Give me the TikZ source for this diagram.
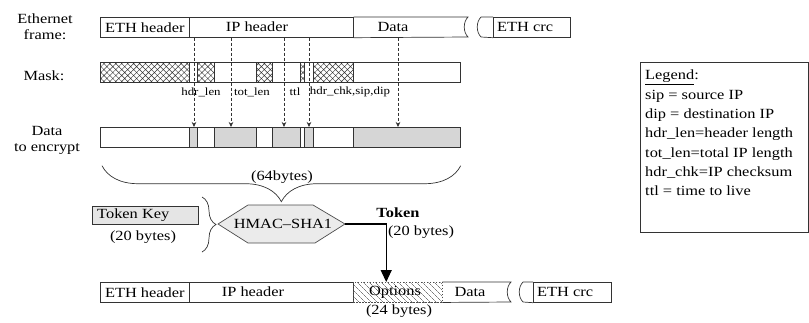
\documentclass[tikz,border=0pt]{standalone}
\usepackage{fontspec}
\setmainfont{Liberation Serif}[FakeStretch=1.17]
\usepackage{tikz}
\usetikzlibrary{arrows.meta,patterns.meta,decorations.pathreplacing}
\tikzset{
    Field/.style = {draw=black!80,line width=0.7pt,minimum height=20pt,inner sep=0pt,anchor=north west},
    Grey/.style = {Field,fill=black!16},
    Cross/.style = {Field,pattern={Hatch[angle=45,distance=4.2pt,line width=0.45pt]},pattern color=black!80},
    Small/.style = {font=\fontsize{11}{13}\selectfont,inner sep=0pt},
    Probe/.style = {draw=black!80,line width=0.6pt,dash pattern=on 3pt off 2pt,-{Stealth[length=5pt,width=4.5pt]}},
    Break/.style = {draw=black!80,line width=0.7pt}
}

\begin{document}
\begin{tikzpicture}[x=1pt,y=-1pt,font=\fontsize{14}{16}\selectfont]
    \useasboundingbox (0,0) rectangle (809,322);
    % left captions
    \node[align=center] (lframe) at (45,27) {Ethernet\\frame:};
    \node (lmask) at (44,76) {Mask:};
    \node[align=center] (lenc) at (47,140) {Data\\to encrypt};
    % Ethernet frame
    \node[Field,minimum width=89pt] (eth) at (100,17) {ETH header};
    \node[Field,minimum width=164pt] (ip) at (189,17) {};
    \node (tip) at (257,27) {IP header};
    \draw[Break] (ip.north east) -- (468,17) .. controls (463,22) and (463,32) .. (468,37) -- (ip.south east);
    \node (tdata) at (393,27) {Data};
    \node[Field,minimum width=77pt] (tcrc) at (493,17) {};
    \draw[Break] (tcrc.north west) -- (481,17) .. controls (476,22) and (476,32) .. (481,37) -- (tcrc.south west);
    \node[anchor=west,inner sep=0pt] (tcrctxt) at ([xshift=4pt]tcrc.west) {ETH crc};
    % mask
    \node[Field,minimum width=360pt] (mask) at (100,62) {};
    \foreach \a/\b in {100/189,197/214,256/272,300/304,313/353}
        {\node[Cross,minimum width={(\b-\a)*1pt}] (m\a) at (\a,62) {};}
    \node[Small] (lhl) at (201,92) {hdr\_len};
    \node[Small] (ltl) at (252,92) {tot\_len};
    \node[Small] (lttl) at (295,92) {ttl};
    \node[Small] (lchk) at (350,92) {hdr\_chk,sip,dip};
    % data to encrypt
    \node[Field,minimum width=360pt] (enc) at (100,127) {};
    \foreach \a/\b in {189/197,214/256,272/300,304/313,353/460}
        {\node[Grey,minimum width={(\b-\a)*1pt}] (g\a) at (\a,127) {};}
    \foreach \x in {194,231,284,309,398}
        {\draw[Probe] (\x,0 |- ip.south) -- (\x,0 |- enc.north);}
    % braces
    \draw[Break,decorate,decoration={brace,mirror,amplitude=36pt}]
        ([xshift=2pt,yshift=-18pt]enc.south west) -- ([yshift=-18pt]enc.south east);
    \node (n64) at (282,177) {(64bytes)};
    \node[Field,fill=black!10,minimum width=106pt,minimum height=18pt] (key) at (92,206) {};
    \node[anchor=west,inner sep=0pt] (keytxt) at ([xshift=5pt]key.west) {Token Key};
    \node (keylen) at (143,237) {(20 bytes)};
    \filldraw[fill=black!8,draw=black!70,line width=0.7pt]
        (218,224) coordinate (hw) -- (248,205) -- (313,205) -- (345,224) coordinate (he)
        -- (315,243) -- (248,243) -- cycle;
    \node (hmac) at (283,224) {HMAC--SHA1};
    \draw[Break,decorate,decoration={brace,amplitude=14pt}]
        ([xshift=-16pt,yshift=27pt]hw) -- ([xshift=-16pt,yshift=-28pt]hw);
    % token
    \node[font=\fontsize{14}{16}\selectfont\bfseries] (tok) at (398,213) {Token};
    \node (toklen) at (421,232) {(20 bytes)};
    % new frame
    \node[Field,minimum width=89pt] (beth) at (100,282) {ETH header};
    \node[Field,minimum width=164pt] (bip) at (189,282) {};
    \node (biptxt) at (253,292) {IP header};
    \node[Field,draw=black!70,line width=0.5pt,dash pattern=on 1.5pt off 1.5pt,
          pattern={Lines[angle=-45,distance=4pt,line width=0.45pt]},pattern color=black!80,
          minimum width=89pt] (opt) at (353,282) {};
    \node (opttxt) at (395,292) {Options};
    \node (optlen) at (399,311) {(24 bytes)};
    \draw[Break] (opt.north east) -- (511,282) .. controls (506,287) and (506,297) .. (511,302) -- (opt.south east);
    \node (bdata) at (470,292) {Data};
    \node[Field,minimum width=78pt] (bcrc) at (533,282) {};
    \draw[Break] (bcrc.north west) -- (523,282) .. controls (518,287) and (518,297) .. (523,302) -- (bcrc.south west);
    \node[anchor=west,inner sep=0pt] (bcrctxt) at ([xshift=4pt]bcrc.west) {ETH crc};
    \draw[line width=1.2pt,-{Triangle[length=12pt,width=11pt]}] (he) -| ([xshift=-11.5pt]opt.north);
    % legend
    \node[Field,minimum width=168pt,minimum height=170pt] (legend) at (640,62) {};
    \node[anchor=north west,align=left,inner sep=0pt,font=\fontsize{14}{19.3}\selectfont]
        (legtxt) at ([xshift=5pt,yshift=-8pt]legend.north west)
        {\underline{Legend}:\\ sip = source IP\\ dip = destination IP\\ hdr\_len=header length\\
         tot\_len=total IP length\\ hdr\_chk=IP checksum\\ ttl = time to live};
\end{tikzpicture}
\end{document}
